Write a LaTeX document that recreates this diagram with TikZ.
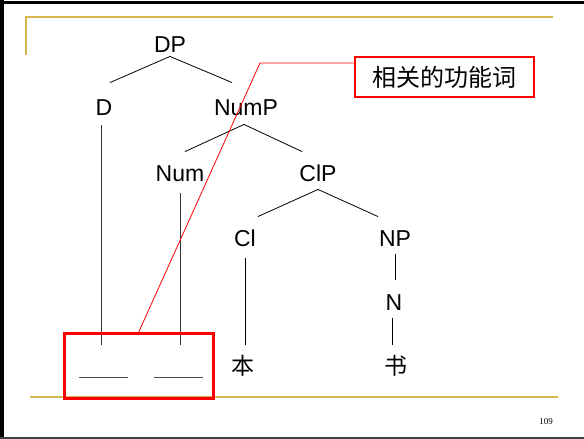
\documentclass[tikz,border=0pt]{standalone}
\usepackage{fontspec}
\setmainfont{Liberation Sans}
\newfontfamily\cjk{Noto Sans CJK SC}
\newfontfamily\pagefont{Liberation Serif}
\usetikzlibrary{calc}
\definecolor{slidegold}{RGB}{217,181,80}

\begin{document}
\begin{tikzpicture}[x=1pt,y=-1pt,font=\fontsize{23}{26}\selectfont,
  cat/.style={inner sep=0pt,text height=16.5pt,text depth=0pt},
  leaf/.style={inner sep=0pt,minimum height=42pt,font=\fontsize{23}{26}\selectfont\cjk},
  branch/.style={line width=0.8pt},
  callline/.style={red,line width=0.8pt}]

\begin{scope}
\useasboundingbox (0,0) rectangle (584,439);
\draw[line width=3pt] (0,2.5) -- (584,2.5);
\draw[line width=4pt] (2,0) -- (2,439);
\draw[line width=2pt,black!75] (0,437.5) -- (584,437.5);
\draw[slidegold,line width=2pt] (26,55) -- (26,17) -- (553,17);
\draw[slidegold,line width=2pt] (30,397) -- (558,397);
\node[font=\fontsize{9}{10}\selectfont\pagefont] (page) at (546,422) {109};
\end{scope}

\node[cat] (DP) at (170,44) {DP};
\node[cat] (D) at (104,107) {D};
\node[cat] (NumP) at (246,107) {NumP};
\node[cat] (Num) at (180,173) {Num};
\node[cat] (ClP) at (318,173) {ClP};
\node[cat] (Cl) at (245,238) {Cl};
\node[cat] (NP) at (395,238) {NP};
\node[cat] (N) at (394,302) {N};
\node[leaf] (ben) at (243,366) {本};
\node[leaf] (shu) at (396,366) {书};

\draw[branch] ([yshift=-4pt]DP.south) -- ([shift={(6pt,16pt)}]D.north);
\draw[branch] ([yshift=-4pt]DP.south) -- ([shift={(-14pt,16pt)}]NumP.north);
\draw[branch] ([shift={(-2pt,-9pt)}]NumP.south) -- ([shift={(5pt,13pt)}]Num.north);
\draw[branch] ([shift={(-2pt,-9pt)}]NumP.south) -- ([shift={(-16pt,13pt)}]ClP.north);
\draw[branch] ([yshift=-8pt]ClP.south) -- ([shift={(13pt,13pt)}]Cl.north);
\draw[branch] ([yshift=-8pt]ClP.south) -- ([shift={(-17pt,13pt)}]NP.north);
\draw[branch,shorten <=8pt,shorten >=14pt] (NP.south) -- (NP.south |- N.north);
\draw[branch,shorten <=8pt] ([xshift=-2pt]N.south) -- ([xshift=-2pt]N.south |- shu.north);
\draw[branch,shorten <=12pt] (Cl.south) -- (Cl.south |- ben.north);
\draw[branch,black!80,shorten <=10pt] ([xshift=-3pt]D.south) -- ([xshift=-3pt]D.south |- ben.north);
\draw[branch,black!80,shorten <=12pt] (Num.south) -- (Num.south |- ben.north);

\node[inner sep=0pt] (slotD) at (103.5,377) {\textcolor{black!70}{\rule{49pt}{1pt}}};
\node[inner sep=0pt] (slotNum) at (178.5,377) {\textcolor{black!70}{\rule{49pt}{1pt}}};

\node[draw=red,line width=3pt,inner sep=0pt,minimum width=148.5pt,minimum height=65pt] (slots) at (138.75,366) {};
\node[draw=red,line width=1.2pt,inner sep=0pt,minimum width=179pt,minimum height=40pt,font=\fontsize{24}{26}\selectfont\cjk] (callout) at (444.5,77) {相关的功能词};

\coordinate (bend) at (260,63);
\draw[callline] (slots.north) -- (bend) -- (bend -| callout.west);

\end{tikzpicture}
\end{document}
